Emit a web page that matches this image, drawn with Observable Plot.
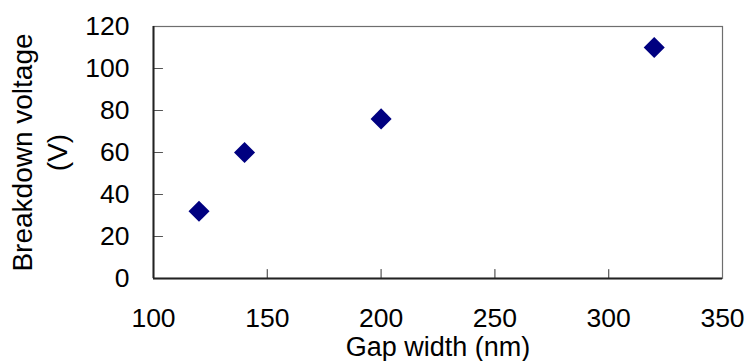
<!DOCTYPE html>
<html>
<head>
<meta charset="utf-8">
<script src="https://cdn.jsdelivr.net/npm/d3@7"></script>
<script src="https://cdn.jsdelivr.net/npm/@observablehq/plot@0.6"></script>
<style>
  html, body { margin: 0; padding: 0; background: #fff; }
  #chart svg { display: block; }
</style>
</head>
<body>
<div id="chart"></div>
<script>
const gapWidth = [120, 140, 200, 320];
const breakdownVoltage = [32, 60, 76, 110];
const xTicks = [100, 150, 200, 250, 300, 350];
const yTicks = [0, 20, 40, 60, 80, 100, 120];
const xLabel = "Gap width (nm)";
const yLabel = "Breakdown voltage\n(V)";

const data = gapWidth.map((g, i) => ({gap: g, v: breakdownVoltage[i]}));

const tickShape = {draw(ctx, l) { ctx.moveTo(0, 0); ctx.lineTo(0, -l); }};
const labelFont = "'Liberation Sans', Arial, sans-serif";

const chart = Plot.plot({
  width: 750,
  height: 361,
  marginLeft: 153,
  marginRight: 28,
  marginTop: 26,
  marginBottom: 83,
  style: {background: "#fff", fontFamily: labelFont},
  x: {domain: [100, 350]},
  y: {domain: [0, 120]},
  marks: [
    Plot.frame({stroke: "#6e6e6e", strokeWidth: 1.2}),
    Plot.vector(yTicks.slice(1, -1), {y: d => d, frameAnchor: "left", length: 9, rotate: 90, anchor: "start", shape: tickShape, stroke: "#555", strokeWidth: 1.2}),
    Plot.vector(xTicks.slice(1, -1), {x: d => d, frameAnchor: "bottom", length: 9, rotate: 0, anchor: "start", shape: tickShape, stroke: "#555", strokeWidth: 1.2}),
    Plot.ruleX([100], {stroke: "#222", strokeWidth: 2}),
    Plot.ruleY([0], {stroke: "#222", strokeWidth: 2}),
    Plot.axisX(xTicks, {tickSize: 0, tickPadding: 30, fontSize: 26.5, fontFamily: labelFont, fill: "#000", label: null}),
    Plot.axisY(yTicks, {tickSize: 0, tickPadding: 24, fontSize: 26.5, fontFamily: labelFont, fill: "#000", label: null}),
    Plot.dot(data, {x: "gap", y: "v", symbol: "diamond2", r: 9.5, fill: "#000080", stroke: "none"}),
    Plot.text([xLabel], {text: d => d, frameAnchor: "bottom", dy: 69, fontSize: 27, fontFamily: labelFont, fill: "#000", textAnchor: "middle", lineAnchor: "middle"}),
    Plot.text([yLabel], {text: d => d, frameAnchor: "left", dx: -115, rotate: -90, fontSize: 28, fontFamily: labelFont, fill: "#000", textAnchor: "middle", lineAnchor: "middle", lineHeight: 1.22})
  ]
});
document.getElementById("chart").appendChild(chart);
</script>
</body>
</html>
